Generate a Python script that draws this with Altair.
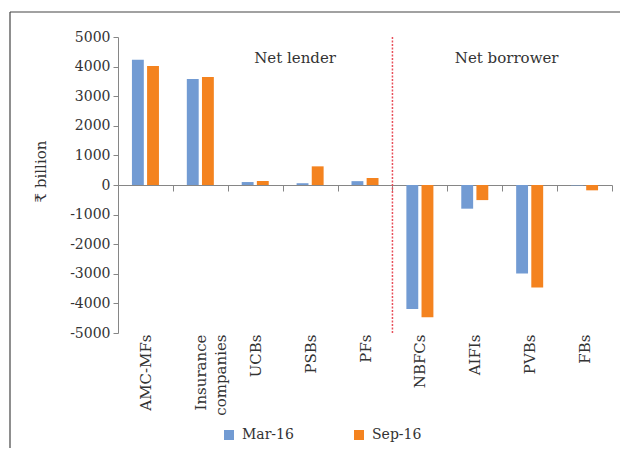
import altair as alt
import pandas as pd

categories = ["AMC-MFs", "Insurance companies", "UCBs", "PSBs", "PFs",
              "NBFCs", "AIFIs", "PVBs", "FBs"]
periods = ["Mar-16", "Sep-16"]
mar16 = [4230, 3580, 100, 60, 130, -4190, -800, -2990, -15]
sep16 = [4020, 3650, 135, 630, 240, -4470, -510, -3460, -180]
colors = ["#729BD3", "#F4831F"]
y_ticks = [-5000, -4000, -3000, -2000, -1000, 0, 1000, 2000, 3000, 4000, 5000]

rows = []
for c, a, b in zip(categories, mar16, sep16):
    rows.append({"cat": c, "period": "Mar-16", "value": a})
    rows.append({"cat": c, "period": "Sep-16", "value": b})
df = pd.DataFrame(rows)

FONT = "DejaVu Serif"
TXT = "#333333"
GRAY = "#868686"

x_scale = alt.Scale(domain=categories, paddingInner=0, paddingOuter=0)
y_scale = alt.Scale(domain=[-5000, 5000], nice=False)

y_axis = alt.Axis(values=y_ticks, labelExpr="'' + datum.value",
                  labelOverlap=False, labelFlush=False,
                  grid=False, domainColor=GRAY, tickColor=GRAY,
                  tickSize=5, labelPadding=3, labelFont=FONT,
                  labelFontSize=14, labelColor=TXT, titleFont=FONT,
                  titleFontSize=15, titleFontWeight="normal",
                  titleColor=TXT, titleX=-70, titleY=134)
x_axis = alt.Axis(orient="bottom", offset=-148, domainColor=GRAY,
                  tickColor=GRAY, tickSize=6, tickBand="extent",
                  labelAngle=270, labelPadding=143, labelFont=FONT,
                  labelFontSize=15, labelColor=TXT, labelLineHeight=20,
                  labelOverlap=False,
                  labelExpr="datum.value == 'Insurance companies' ? ['Insurance', 'companies'] : datum.value")

bars = alt.Chart(df).mark_bar().encode(
    x=alt.X("cat:N", sort=categories, scale=x_scale, title=None, axis=x_axis),
    xOffset=alt.XOffset("period:N", sort=periods,
                        scale=alt.Scale(paddingInner=0.216, paddingOuter=0.92)),
    y=alt.Y("value:Q", scale=y_scale, title="₹ billion", axis=y_axis),
    color=alt.Color("period:N", sort=periods,
                    scale=alt.Scale(domain=periods, range=colors),
                    legend=alt.Legend(orient="none", legendX=104, legendY=391,
                                      direction="horizontal", title=None,
                                      symbolType="square", symbolSize=100,
                                      symbolStrokeWidth=0, labelFont=FONT,
                                      labelFontSize=14, labelColor=TXT,
                                      labelOffset=6, columnPadding=58)),
)

divider_df = pd.DataFrame({"cat": ["NBFCs"], "value": [5000], "bottom": [-5000]})
divider = alt.Chart(divider_df).mark_rule(
    color="#E8505B", strokeWidth=1.5, strokeDash=[2, 1.5]
).encode(
    x=alt.X("cat:N", sort=categories, bandPosition=0, title=None, axis=x_axis),
    y=alt.Y("value:Q", title="₹ billion", axis=y_axis),
    y2="bottom:Q",
)

labels_df = pd.DataFrame({"cat": ["PSBs"], "value": [4300], "text": ["Net lender"]})
label_l = alt.Chart(labels_df).mark_text(
    font=FONT, fontSize=15, color=TXT, dx=-15, baseline="middle"
).encode(x=alt.X("cat:N", sort=categories, title=None, axis=x_axis),
         y=alt.Y("value:Q", title="₹ billion", axis=y_axis), text="text:N")

labels_df2 = pd.DataFrame({"cat": ["PVBs"], "value": [4300], "text": ["Net borrower"]})
label_b = alt.Chart(labels_df2).mark_text(
    font=FONT, fontSize=15, color=TXT, dx=-23, baseline="middle"
).encode(x=alt.X("cat:N", sort=categories, title=None, axis=x_axis),
         y=alt.Y("value:Q", title="₹ billion", axis=y_axis), text="text:N")

frame_data = alt.Data(values=[{}])
frame_top = alt.Chart(frame_data).mark_rule(color="#444444", strokeWidth=1.2).encode(
    x=alt.value(-108), x2=alt.value(520), y=alt.value(-25))
frame_left = alt.Chart(frame_data).mark_rule(color="#444444", strokeWidth=1.2).encode(
    x=alt.value(-108), y=alt.value(-25), y2=alt.value(420))

chart = alt.layer(bars, divider, label_l, label_b, frame_top, frame_left).properties(
    width=494, height=296,
    autosize="none",
    padding={"left": 110, "top": 29, "right": 8, "bottom": 115},
).configure_view(stroke=None).configure_axis(labelOverlap=False)

chart.save("out.html", embed_options={"renderer": "svg", "actions": False})
